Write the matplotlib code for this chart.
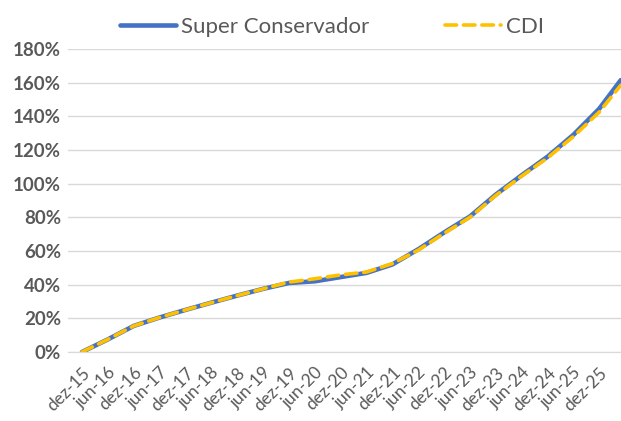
import matplotlib
matplotlib.use("Agg")
import matplotlib.pyplot as plt
from matplotlib.ticker import FuncFormatter

# months since dez-15, read at every tick plus the last point on the right edge
months = [0, 6, 12, 18, 24, 30, 36, 42, 48, 54, 60, 66, 72, 78, 84, 90, 96, 102, 108, 114, 120, 125]
super_conservador = [0, 7.5, 15.5, 20.5, 25, 29.3, 33.5, 37.5, 41, 42, 44.5, 47, 52, 61, 71, 80.5,
                     93.5, 105, 116, 129, 144.5, 161.5]
cdi = [0, 7.5, 15.5, 20.5, 25, 29.3, 33.5, 37.5, 41.5, 43.5, 45.8, 47.5, 52.5, 60.5, 70.5, 80,
       93, 104.5, 115.3, 128, 142.5, 158.5]

tick_months = list(range(0, 121, 6))
tick_labels = ["dez-15", "jun-16", "dez-16", "jun-17", "dez-17", "jun-18", "dez-18",
               "jun-19", "dez-19", "jun-20", "dez-20", "jun-21", "dez-21", "jun-22",
               "dez-22", "jun-23", "dez-23", "jun-24", "dez-24", "jun-25", "dez-25"]
y_ticks = list(range(0, 181, 20))

BLUE = "#4472C4"
GOLD = "#FFC000"
GREY = "#595959"
GRID = "#D9D9D9"

plt.rcParams["font.family"] = ["Lato", "DejaVu Sans"]

fig = plt.figure(figsize=(6.21, 4.21), dpi=100)
ax = fig.add_axes([68 / 621, 69 / 421, 553 / 621, 303 / 421])

ax.plot(months, super_conservador, color=BLUE, lw=3.3, label="Super Conservador",
        solid_capstyle="round", solid_joinstyle="round")
ax.plot(months, cdi, color=GOLD, lw=2.6, ls=(0, (3.2, 1.9)), label="CDI",
        dash_capstyle="round", dash_joinstyle="round")

ax.set_xlim(-3.25, 125.05)
ax.set_ylim(0, 180)
ax.set_yticks(y_ticks)
ax.yaxis.set_major_formatter(FuncFormatter(lambda v, p: f"{v:.0f}%"))
ax.set_xticks(tick_months)
ax.set_xticklabels(tick_labels, rotation=45, ha="right", rotation_mode="anchor")

ax.grid(axis="y", color=GRID, lw=1)
ax.set_axisbelow(True)
for s in ["top", "right", "left"]:
    ax.spines[s].set_visible(False)
ax.spines["bottom"].set_color(GRID)
ax.tick_params(axis="both", length=0, colors=GREY)
ax.tick_params(axis="y", labelsize=13.5, pad=5)
ax.tick_params(axis="x", labelsize=12.5, pad=9)
for t in ax.get_yticklabels():
    t.set_fontweight("bold")

leg = fig.legend(loc="center", bbox_to_anchor=(0.535, 1 - 27 / 421), ncol=2, frameon=False,
                 fontsize=16, handlelength=2.5, columnspacing=3.4, handletextpad=0.25,
                 labelcolor=GREY)

fig.savefig("out.png", dpi=100)
